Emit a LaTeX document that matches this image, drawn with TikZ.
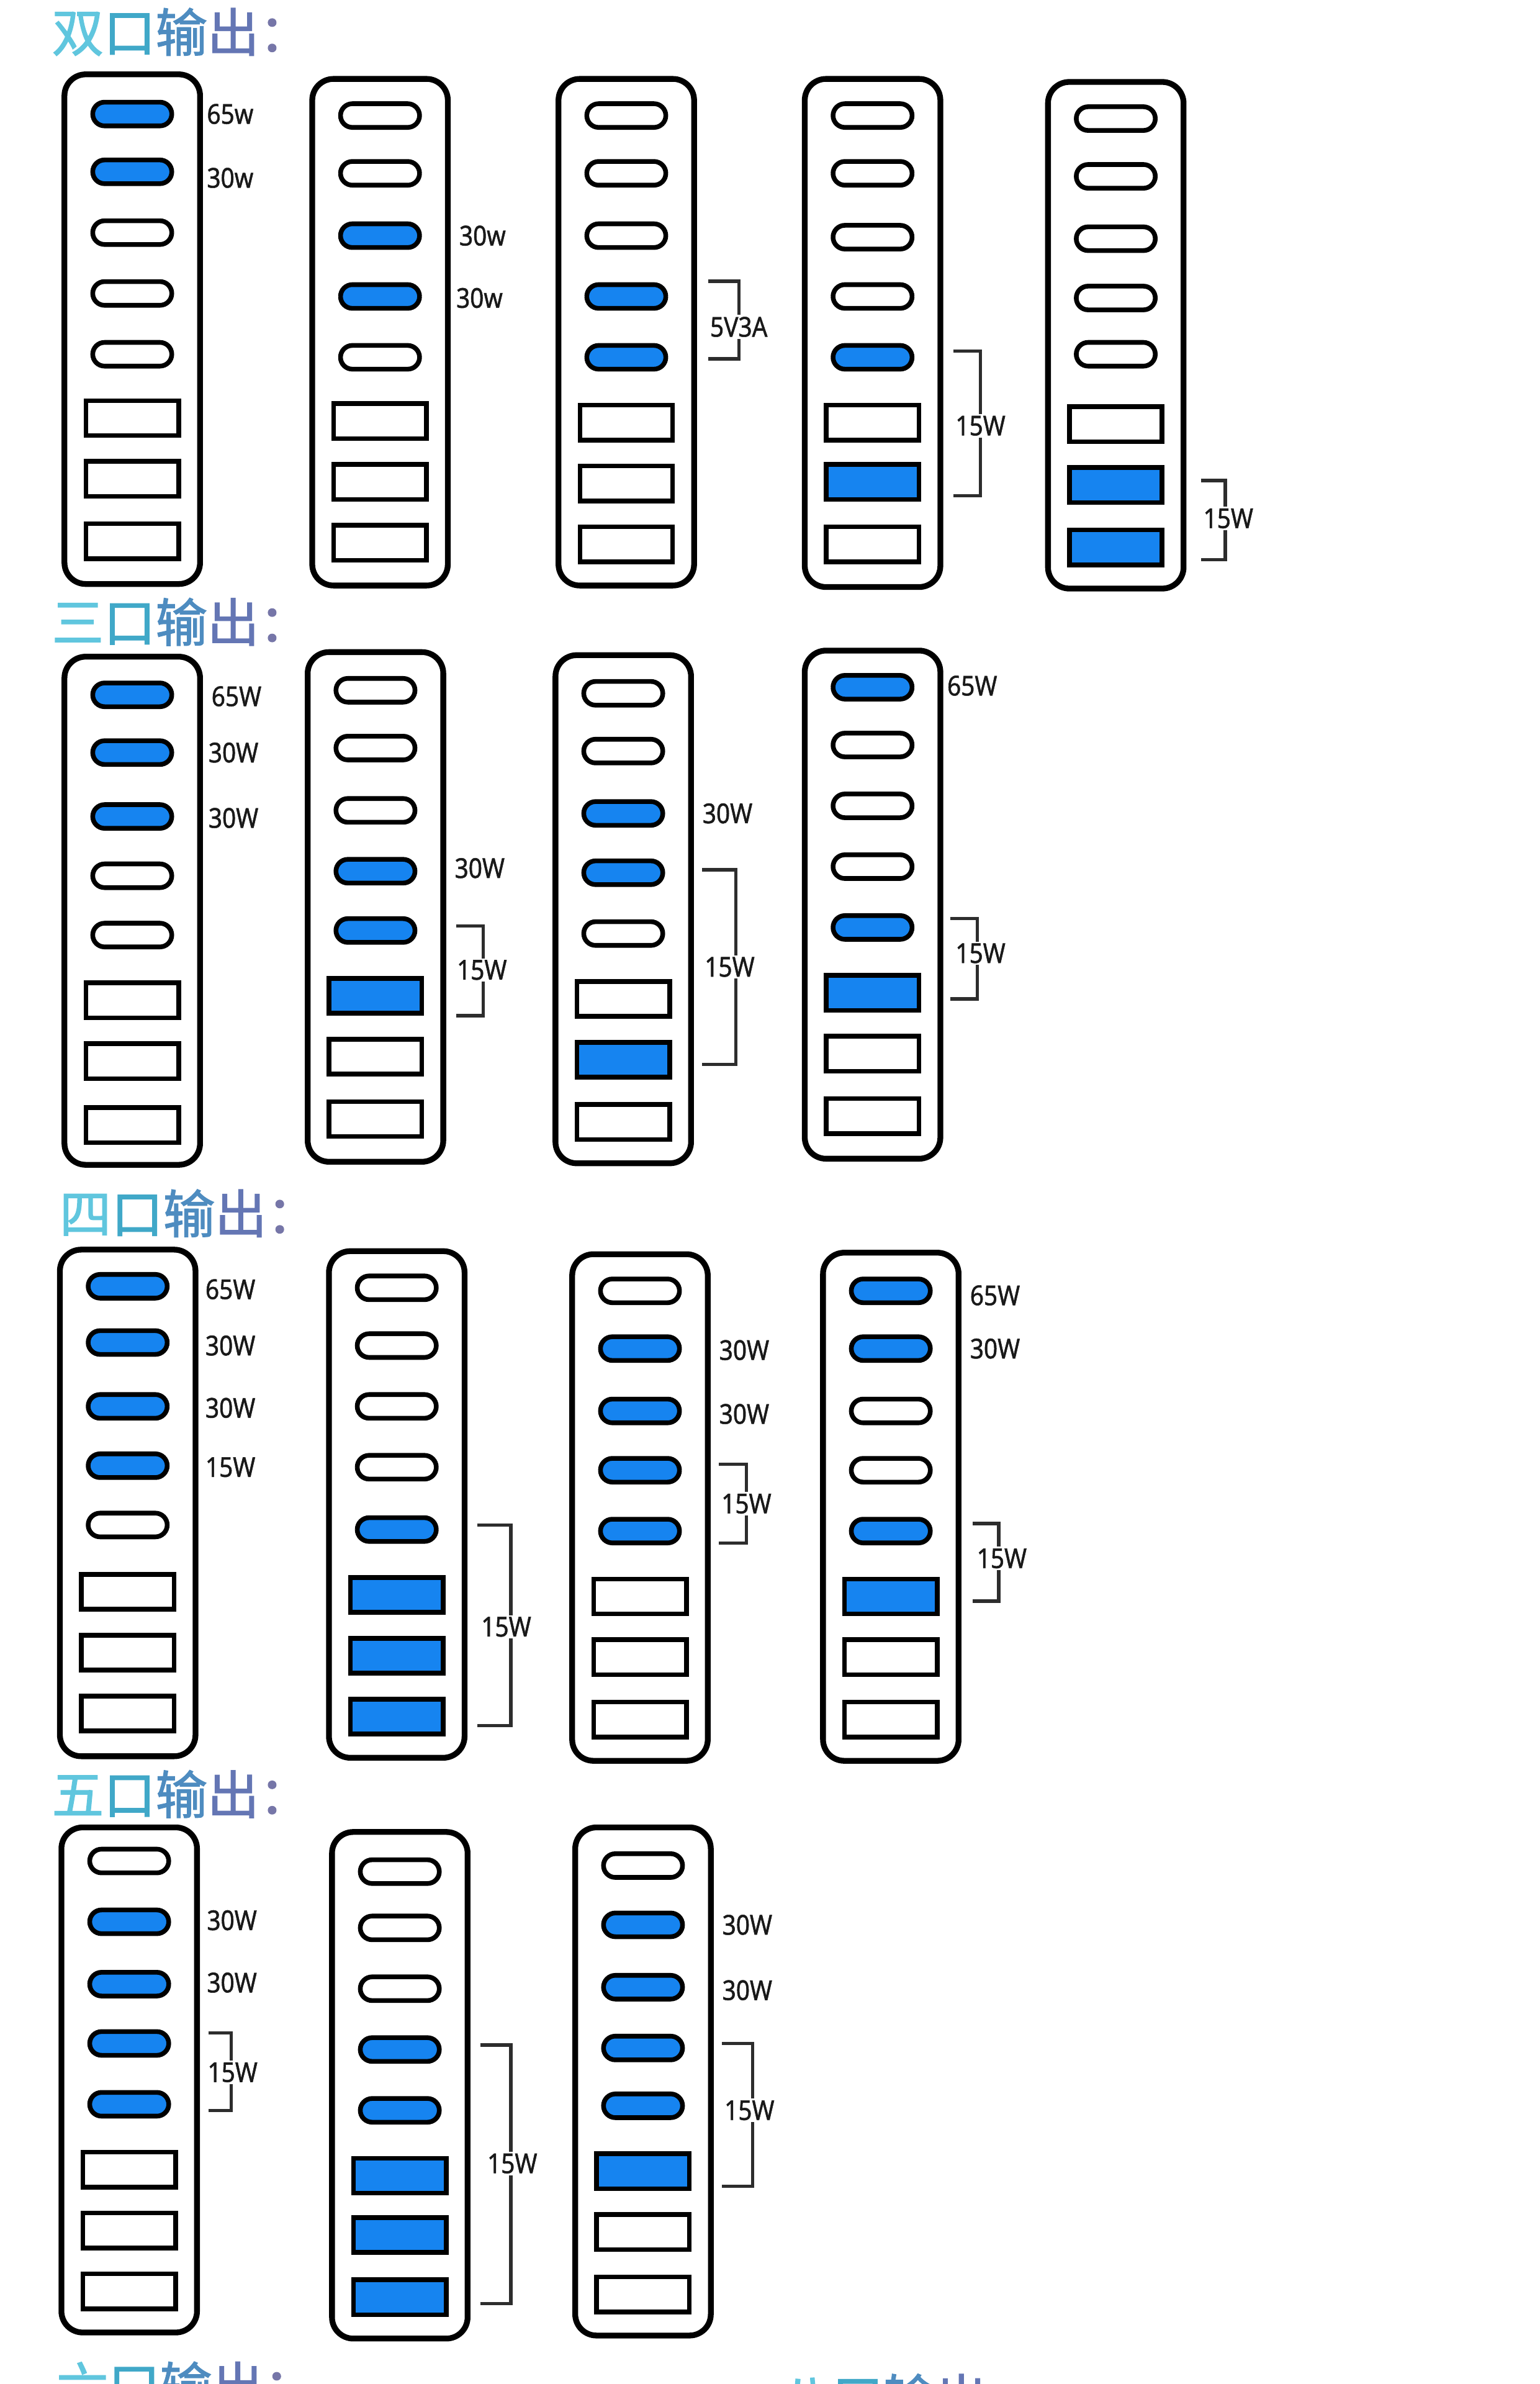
\documentclass[tikz,border=0pt]{standalone}
\usepackage{fontspec}
\newfontfamily\cjk[FakeBold=1.6]{Noto Sans CJK SC}
\newfontfamily\lab[FakeStretch=0.88,FakeBold=1.2]{Noto Sans}
\definecolor{portblue}{RGB}{22,132,240}
\colorlet{pb}{portblue}
\colorlet{pw}{white}
\definecolor{brkgray}{RGB}{45,45,45}
\definecolor{tA}{RGB}{96,198,222}
\definecolor{tB}{RGB}{64,168,200}
\definecolor{tC}{RGB}{78,140,192}
\definecolor{tD}{RGB}{100,118,180}
\definecolor{tE}{RGB}{118,118,168}
\newcommand\ttl[1]{\textcolor{tA}{#1}\textcolor{tB}{口}\textcolor{tC}{输}\textcolor{tD}{出}\textcolor{tE}{：}}
\newcommand\device[5]{%
  \draw[devline] ({#1-44.6},{#2+1.9}) rectangle ({#1+44.6},{#3-1.9});
  \foreach \yy/\cc in {#4} {\draw[cport,fill=\cc] ({#1-26},{\yy-7.8}) rectangle ({#1+26},{\yy+7.8});}
  \foreach \yy/\cc in {#5} {\draw[aport,fill=\cc] ({#1-30.5},{\yy-11.5}) rectangle ({#1+30.5},{\yy+11.5});}
}
\newcommand\bracketmark[7]{% name, x1, x2, ytop, ybot, label x, label y
  \draw[brk] (#2,#4) -| (#3,#5) -- (#2,#5);
  \node[brklabel] (#1) at (#6,#7) {15W};
}
\begin{document}
\begin{tikzpicture}[x=0.5mm,y=-0.5mm,
  devline/.style={line width=1.9mm, draw=black, fill=white, rounded corners=7mm},
  cport/.style={line width=1.55mm, draw=black, rounded corners=3.9mm},
  aport/.style={line width=1.55mm, draw=black},
  brk/.style={line width=1.1mm, draw=brkgray},
  wlabel/.style={anchor=west, inner sep=0pt, font=\lab\fontsize{25.6pt}{30pt}\selectfont, text=black!90},
  brklabel/.style={anchor=center, inner sep=0.6mm, fill=white, font=\lab\fontsize{25.6pt}{30pt}\selectfont, text=black!90},
  title/.style={anchor=west, inner sep=0pt, font=\cjk\fontsize{48.5pt}{54pt}\selectfont}
]
\useasboundingbox (0,0) rectangle (1013,1568);
\fill[white] (0,0) rectangle (1013,1568);

% ---------- titles ----------
\node[title] (t1) at (34,21) {\ttl{双}};
\node[title] (t2) at (34,409) {\ttl{三}};
\node[title] (t3) at (39,798) {\ttl{四}};
\node[title] (t4) at (34,1180) {\ttl{五}};
\node[title] (t5) at (37,1569) {\ttl{六}};
\node[title] (t6) at (513,1577) {\ttl{八}};

% ---------- row 1 ----------
\device{87}{47}{386}{75/pb,113/pb,153/pw,193/pw,233/pw}{275/pw,315/pw,356/pw}
\device{250}{50}{387}{76/pw,114/pw,155/pb,195/pb,235/pw}{277/pw,317/pw,357/pw}
\device{412}{50}{387}{76/pw,114/pw,155/pw,195/pb,235/pb}{278/pw,318/pw,358/pw}
\device{574}{50}{388}{76/pw,114/pw,156/pw,195/pw,235/pb}{278/pw,317/pb,358/pw}
\device{734}{52}{389}{78/pw,116/pw,157/pw,196/pw,233/pw}{279/pw,319/pb,360/pb}

\node[wlabel] (a1) at (136,75) {65w};
\node[wlabel] (a2) at (136,117) {30w};
\node[wlabel] (a3) at (302,155) {30w};
\node[wlabel] (a4) at (300,196) {30w};
\draw[brk] (466,185) -| (486,236) -- (466,236);
\node[brklabel] (a5) at (486,215) {5V3A};
\bracketmark{a6}{627}{645}{231}{326}{645}{280}
\bracketmark{a7}{790}{806}{316}{368}{808}{341}

% ---------- row 2 ----------
\device{87}{430}{768}{457/pb,495/pb,537/pb,576/pw,615/pw}{658/pw,698/pw,740/pw}
\device{247}{427}{766}{454/pw,492/pw,533/pw,573/pb,612/pb}{655/pb,695/pw,736/pw}
\device{410}{429}{767}{456/pw,494/pw,535/pb,574/pb,614/pw}{657/pw,697/pb,738/pw}
\device{574}{426}{764}{452/pb,490/pw,530/pw,570/pw,610/pb}{653/pb,693/pw,734/pw}

\node[wlabel] (b1) at (139,458) {65W};
\node[wlabel] (b2) at (137,495) {30W};
\node[wlabel] (b3) at (137,538) {30W};
\node[wlabel] (b4) at (299,571) {30W};
\node[wlabel] (b5) at (462,535) {30W};
\node[wlabel] (b6) at (623,451) {65W};
\bracketmark{b7}{300}{318}{609}{668}{317}{638}
\bracketmark{b8}{462}{484}{572}{700}{480}{636}
\bracketmark{b9}{625}{643}{604}{657}{645}{627}

% ---------- row 3 ----------
\device{84}{820}{1157}{846/pb,883/pb,925/pb,964/pb,1003/pw}{1047/pw,1087/pw,1127/pw}
\device{261}{821}{1158}{847/pw,885/pw,925/pw,965/pw,1006/pb}{1049/pb,1089/pb,1129/pb}
\device{421}{823}{1160}{849/pw,887/pb,928/pb,967/pb,1007/pb}{1050/pw,1090/pw,1131/pw}
\device{586}{822}{1160}{849/pb,887/pb,928/pw,967/pw,1007/pb}{1050/pb,1090/pw,1131/pw}

\node[wlabel] (c1) at (135,848) {65W};
\node[wlabel] (c2) at (135,885) {30W};
\node[wlabel] (c3) at (135,926) {30W};
\node[wlabel] (c4) at (135,965) {15W};
\node[wlabel] (c5) at (473,888) {30W};
\node[wlabel] (c6) at (473,930) {30W};
\node[wlabel] (c7) at (638,852) {65W};
\node[wlabel] (c8) at (638,887) {30W};
\bracketmark{c9}{314}{336}{1003}{1135}{333}{1070}
\bracketmark{c10}{473}{491}{963}{1015}{491}{989}
\bracketmark{c11}{640}{657}{1002}{1053}{659}{1025}

% ---------- row 4 ----------
\device{85}{1200}{1536}{1224/pw,1264/pb,1305/pb,1344/pb,1384/pb}{1427/pw,1467/pw,1507/pw}
\device{263}{1203}{1540}{1231/pw,1268/pw,1308/pw,1348/pb,1388/pb}{1431/pb,1470/pb,1511/pb}
\device{423}{1200}{1538}{1227/pw,1266/pb,1307/pb,1347/pb,1385/pb}{1428/pb,1468/pw,1509/pw}

\node[wlabel] (e1) at (136,1263) {30W};
\node[wlabel] (e2) at (136,1304) {30W};
\node[wlabel] (e3) at (475,1266) {30W};
\node[wlabel] (e4) at (475,1309) {30W};
\bracketmark{e5}{137}{152}{1337}{1388}{153}{1363}
\bracketmark{e6}{316}{336}{1345}{1515}{337}{1423}
\bracketmark{e7}{475}{495}{1344}{1438}{493}{1388}
\end{tikzpicture}
\end{document}
